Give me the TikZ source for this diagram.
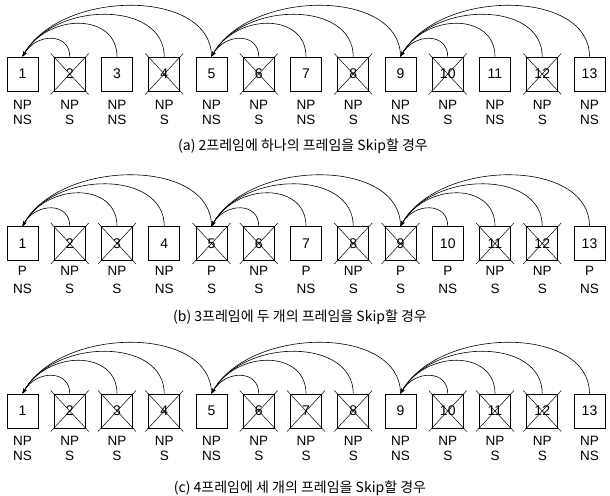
\documentclass[tikz,border=0pt]{standalone}
\usepackage{fontspec}
\setmainfont{Liberation Sans}
\newfontfamily\krfont{Noto Sans CJK KR}
\usetikzlibrary{arrows.meta,calc}
\begin{document}
\begin{tikzpicture}[x=1pt,y=-1pt,
  frame/.style={draw, line width=0.8pt, minimum width=31pt, minimum height=34pt, inner sep=0pt, font=\fontsize{14}{14}\selectfont},
  lbl/.style={inner sep=0pt, font=\fontsize{13.5}{14}\selectfont},
  captxt/.style={inner sep=0pt, font=\krfont\fontsize{14}{16}\selectfont},
  xline/.style={line width=0.5pt},
  arcline/.style={line width=0.6pt, -{Stealth[length=5pt,width=3.5pt]}}]
\useasboundingbox (0,0) rectangle (610,495);
% row (a)
\foreach \i/\p/\s/\c in {1/NP/NS/0,2/NP/S/1,3/NP/NS/0,4/NP/S/1,5/NP/NS/0,6/NP/S/1,7/NP/NS/0,8/NP/S/1,9/NP/NS/0,10/NP/S/1,11/NP/NS/0,12/NP/S/1,13/NP/NS/0}{
  \pgfmathsetmacro\cx{22.5+47.25*(\i-1)}
  \node[frame] (a\i) at (\cx,74) {\i};
  \node[lbl] (ap\i) at (\cx,105) {\p};
  \node[lbl] (as\i) at (\cx,120) {\s};
  \ifnum\c=1
    \draw[xline] ($(a\i.north west)+(-3,-3)$) -- ($(a\i.south east)+(3,3)$)
                 ($(a\i.north east)+(3,-3)$) -- ($(a\i.south west)+(-3,3)$);
  \fi
}
% row (b)
\foreach \i/\p/\s/\c in {1/P/NS/0,2/NP/S/1,3/NP/S/1,4/NP/NS/0,5/P/S/1,6/NP/S/1,7/P/NS/0,8/NP/S/1,9/P/S/1,10/P/NS/0,11/NP/S/1,12/NP/S/1,13/P/NS/0}{
  \pgfmathsetmacro\cx{22.5+47.25*(\i-1)}
  \node[frame] (b\i) at (\cx,243.5) {\i};
  \node[lbl] (bp\i) at (\cx,271) {\p};
  \node[lbl] (bs\i) at (\cx,289) {\s};
  \ifnum\c=1
    \draw[xline] ($(b\i.north west)+(-3,-3)$) -- ($(b\i.south east)+(3,3)$)
                 ($(b\i.north east)+(3,-3)$) -- ($(b\i.south west)+(-3,3)$);
  \fi
}
% row (c)
\foreach \i/\p/\s/\c in {1/NP/NS/0,2/NP/S/1,3/NP/S/1,4/NP/S/1,5/NP/NS/0,6/NP/S/1,7/NP/S/1,8/NP/S/1,9/NP/NS/0,10/NP/S/1,11/NP/S/1,12/NP/S/1,13/NP/NS/0}{
  \pgfmathsetmacro\cx{22.5+47.25*(\i-1)}
  \node[frame] (c\i) at (\cx,411) {\i};
  \node[lbl] (cp\i) at (\cx,440.5) {\p};
  \node[lbl] (cs\i) at (\cx,456) {\s};
  \ifnum\c=1
    \draw[xline] ($(c\i.north west)+(-3,-3)$) -- ($(c\i.south east)+(3,3)$)
                 ($(c\i.north east)+(3,-3)$) -- ($(c\i.south west)+(-3,3)$);
  \fi
}
% arcs
\foreach \r in {a,b,c}{
  \foreach \s in {1,5,9}{
    \foreach \k/\H/\A in {1/24/14,2/44/25,3/56/32,4/68/39}{
      \pgfmathtruncatemacro\t{\s+\k}
      \draw[arcline] (\r\t.north) .. controls ($(\r\t.north)+(0,-\H)$) and ($(\r\s.north)+(\A,-\H)$) .. (\r\s.north);
    }
  }
}
% captions
\node[captxt] (capa) at (303,146) {(a) 2프레임에 하나의 프레임을 Skip할 경우};
\node[captxt] (capb) at (300,317.5) {(b) 3프레임에 두 개의 프레임을 Skip할 경우};
\node[captxt] (capc) at (300,488) {(c) 4프레임에 세 개의 프레임을 Skip할 경우};
\end{tikzpicture}
\end{document}
